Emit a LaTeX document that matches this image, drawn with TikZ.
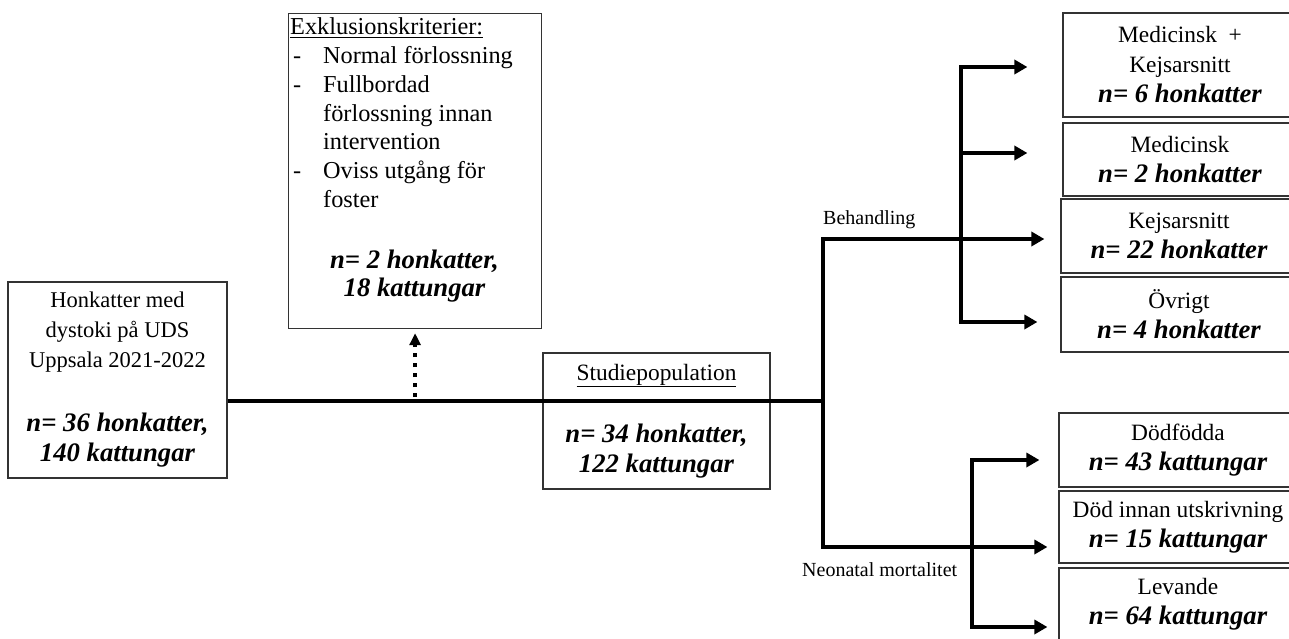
\documentclass[tikz,border=0pt]{standalone}
\usepackage{fontspec}
\setmainfont{Liberation Serif}
\usetikzlibrary{arrows.meta}
\newcommand{\cnt}[1]{{\fontsize{26.7}{30}\selectfont\bfseries\itshape #1}}
\begin{document}
\begin{tikzpicture}[x=1pt,y=-1pt,
  box/.style={draw=black!80, line width=1.2pt, fill=white, inner sep=2pt, align=center, font=\fontsize{23.4}{30}\selectfont},
  flow/.style={line width=4pt, line join=miter},
  vline/.style={flow, line cap=rect},
  arr/.style={flow, -{Triangle[length=13pt,width=14pt]}},
  dotarr/.style={line width=4pt, dash pattern=on 4pt off 6pt, -{Triangle[length=12pt,width=11pt]}},
  lbl/.style={anchor=west, inner sep=0pt, font=\fontsize{20}{24}\selectfont}
]
\useasboundingbox (0,0) rectangle (1289,639);
\fill[white] (0,0) rectangle (1289,639);

% boxes
\node[box, minimum width=219pt, minimum height=196pt, font=\fontsize{22.5}{30}\selectfont] (src) at (117.5,380)
  {Honkatter med\\ dystoki på UDS\\ Uppsala 2021-2022\\[34pt] \cnt{n= 36 honkatter,}\\ \cnt{140 kattungar}};
\node[box, anchor=north west, minimum width=253pt, minimum height=315pt] (excl) at (288,13) {};
\node[anchor=base west, inner sep=0pt, font=\fontsize{24.3}{28.7}\selectfont] (excltext) at (290,35)
  {\begin{tabular}[t]{@{}p{33pt}@{}l@{}}
   \multicolumn{2}{@{}l@{}}{\underline{Exklusionskriterier:}}\\
   \hspace{3pt}- & Normal förlossning\\
   \hspace{3pt}- & Fullbordad\\
    & förlossning innan\\
    & intervention\\
   \hspace{3pt}- & Oviss utgång för\\
    & foster
   \end{tabular}};
\node[align=center, inner sep=0pt, font=\fontsize{26.7}{28}\selectfont\bfseries\itshape] (exclcount) at (414.5,276)
  {n= 2 honkatter,\\ 18 kattungar};
\node[box, minimum width=227pt, minimum height=136pt] (study) at (656.5,421)
  {\underline{Studiepopulation}\\[32pt] \cnt{n= 34 honkatter,}\\ \cnt{122 kattungar}};

\node[box, minimum width=234pt, minimum height=104pt] (b1) at (1180,65)
  {Medicinsk \ +\\ Kejsarsnitt\\ \cnt{n= 6 honkatter}};
\node[box, minimum width=234pt, minimum height=73pt] (b2) at (1180,159.5)
  {Medicinsk\\ \cnt{n= 2 honkatter}};
\node[box, minimum width=236pt, minimum height=74pt] (b3) at (1179,236)
  {Kejsarsnitt\\ \cnt{n= 22 honkatter}};
\node[box, minimum width=236pt, minimum height=75pt] (b4) at (1179,314.5)
  {Övrigt\\ \cnt{n= 4 honkatter}};
\node[box, minimum width=238pt, minimum height=74pt] (b5) at (1178,450)
  {Dödfödda\\ \cnt{n= 43 kattungar}};
\node[box, minimum width=238pt, minimum height=72pt] (b6) at (1178,527)
  {Död innan utskrivning\\ \cnt{n= 15 kattungar}};
\node[box, minimum width=238pt, minimum height=73pt] (b7) at (1178,604.5)
  {Levande\\ \cnt{n= 64 kattungar}};

% labels
\node[lbl] (lbeh) at (823,220) {Behandling};
\node[lbl] (lneo) at (802,570) {Neonatal mortalitet};

% junction coordinates
\coordinate (split) at (823,401);
\coordinate (bt) at (823,239);
\coordinate (nb) at (823,547);
\coordinate (bvtop) at (961,67);
\coordinate (bvmid) at (961,153);
\coordinate (bvbot) at (961,322);
\coordinate (nvtop) at (972,460);
\coordinate (nvbot) at (972,627);

% connectors
\draw[flow] (src.east |- split) -- (split);
\draw[vline] (bt) -- (nb);
\draw[dotarr, shorten >=4pt] (excl.south |- split) ++(0,-4) -- (excl.south);
\draw[arr, shorten >=16pt] (bt) -- (b3.west |- bt);
\draw[vline] (bvtop) -- (bvbot);
\draw[arr, shorten >=35pt] (bvtop) -- (b1.west |- bvtop);
\draw[arr, shorten >=35pt] (bvmid) -- (b2.west |- bvmid);
\draw[arr, shorten >=23pt] (bvbot) -- (b4.west |- bvbot);
\draw[arr, shorten >=11pt] (nb) -- (b6.west |- nb);
\draw[vline] (nvtop) -- (nvbot);
\draw[arr, shorten >=19pt] (nvtop) -- (b5.west |- nvtop);
\draw[arr, shorten >=11pt] (nvbot) -- (b7.west |- nvbot);
\end{tikzpicture}
\end{document}
